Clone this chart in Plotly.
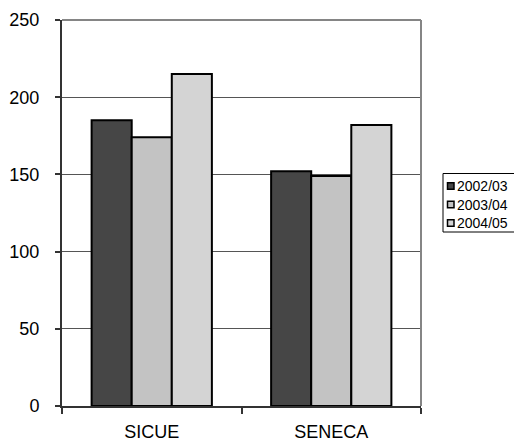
import plotly.graph_objects as go

categories = ["SICUE", "SENECA"]
series_names = ["2002/03", "2003/04", "2004/05"]
values_2002 = [185, 152]
values_2003 = [174, 149]
values_2004 = [215, 182]
y_ticks = [0, 50, 100, 150, 200, 250]

colors = ["#464646", "#c3c3c3", "#d4d4d4"]
series_values = [values_2002, values_2003, values_2004]

W, H = 514, 443
ML, MR, MT, MB = 62, 93, 20, 37
PW, PH = W - ML - MR, H - MT - MB

def px_x(px):
    return (px - ML) / PW

def px_y(py):
    return (H - MB - py) / PH

fig = go.Figure()
for name, vals, col in zip(series_names, series_values, colors):
    fig.add_trace(go.Bar(
        x=categories, y=vals, name=name,
        marker=dict(color=col, line=dict(color="#000000", width=2)),
        showlegend=False,
    ))

lx0, lx1, ly0, ly1 = px_x(443), px_x(520), px_y(173.5), px_y(232)
shapes = [
    dict(type="line", xref="paper", yref="paper", x0=0, x1=1, y0=1, y1=1,
         line=dict(color="#858585", width=2)),
    dict(type="line", xref="paper", yref="paper", x0=1, x1=1, y0=0, y1=1,
         line=dict(color="#858585", width=2)),
    # legend frame (right side falls outside the picture)
    dict(type="rect", xref="paper", yref="paper", x0=lx0, x1=lx1, y0=ly0, y1=ly1,
         line=dict(width=0), fillcolor="white"),
    dict(type="line", xref="paper", yref="paper", x0=lx0, x1=lx1, y0=ly0, y1=ly0,
         line=dict(color="#000000", width=1)),
    dict(type="line", xref="paper", yref="paper", x0=lx0, x1=lx1, y0=ly1, y1=ly1,
         line=dict(color="#000000", width=1)),
    dict(type="line", xref="paper", yref="paper", x0=lx0, x1=lx0, y0=ly0, y1=ly1,
         line=dict(color="#000000", width=1)),
]
annotations = []
for i, (name, col) in enumerate(zip(series_names, colors)):
    cy = 186 + i * 18.5
    shapes.append(dict(type="rect", xref="paper", yref="paper",
                       x0=px_x(447.5), x1=px_x(454), y0=px_y(cy - 3.3), y1=px_y(cy + 3.3),
                       line=dict(color="#000000", width=1.5), fillcolor=col))
    annotations.append(dict(xref="paper", yref="paper", x=px_x(454.5), y=px_y(cy),
                            xanchor="left", yanchor="middle", showarrow=False,
                            text=name, font=dict(size=14, color="#000000")))

fig.update_layout(
    width=W, height=H,
    margin=dict(l=ML, r=MR, t=MT, b=MB, pad=0, autoexpand=False),
    paper_bgcolor="white", plot_bgcolor="white",
    font=dict(family="Liberation Sans, Arial, sans-serif", color="#000000"),
    barmode="group", bargap=0.33, bargroupgap=0,
    shapes=shapes, annotations=annotations,
    xaxis=dict(
        type="category", tickson="boundaries", ticks="outside", ticklen=6,
        tickcolor="#333333", tickwidth=1.5, automargin=False,
        showline=True, linecolor="#333333", linewidth=2,
        showgrid=False, tickfont=dict(size=18), ticklabelstandoff=8,
    ),
    yaxis=dict(
        range=[0, 250], tickvals=y_ticks, ticks="outside", ticklen=5,
        tickcolor="#333333", tickwidth=1.5, automargin=False,
        showline=True, linecolor="#333333", linewidth=2,
        showgrid=True, gridcolor="#555555", gridwidth=1,
        zeroline=False, tickfont=dict(size=18), ticklabelstandoff=12,
    ),
)

fig.write_html("out.html", config={"displayModeBar": False},
               post_script="document.body.style.margin='0px';")
